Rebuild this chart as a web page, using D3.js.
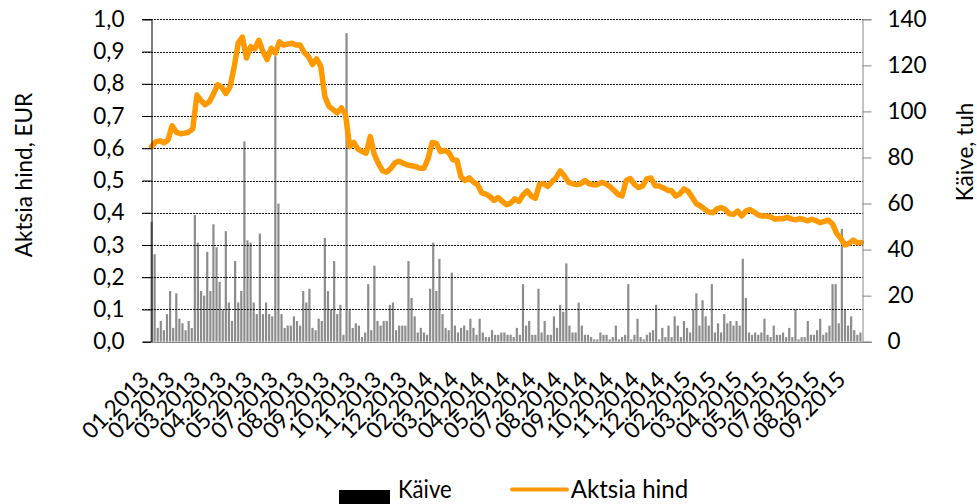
<!DOCTYPE html>
<html>
<head>
<meta charset="utf-8">
<script src="https://cdn.jsdelivr.net/npm/d3@7/dist/d3.min.js"></script>
<style>
  html, body { margin: 0; padding: 0; background: #fff; }
  svg { display: block; }
  text { font-family: Lato, "Open Sans", sans-serif; fill: #000; }
</style>
</head>
<body>
<svg id="chart" width="977" height="504"></svg>
<script>
// x-axis labels (one every 25 trading days)
const tickLabels = [
  '01.2013', '02.2013', '03.2013', '04.2013', '05.2013', '07.2013', '08.2013',
  '09.2013', '10.2013', '11.2013', '12.2013', '02.2014', '03.2014', '04.2014',
  '05.2014', '07.2014', '08.2014', '09.2014', '10.2014', '11.2014', '12.2014',
  '02.2015', '03.2015', '04.2015', '05.2015', '07.2015', '08.2015', '09.2015'
];
const nDays = 690;
const labelStep = 25;

// share price, EUR, read every 4 trading days
const priceStep = 4;
const price = [
  0.605, 0.62, 0.623, 0.617, 0.626, 0.67, 0.65, 0.645, 0.647, 0.65,
  0.66, 0.765, 0.748, 0.735, 0.744, 0.768, 0.797, 0.79, 0.77, 0.79,
  0.85, 0.926, 0.945, 0.88, 0.915, 0.908, 0.935, 0.9, 0.875, 0.91,
  0.895, 0.93, 0.92, 0.923, 0.926, 0.92, 0.92, 0.897, 0.885, 0.86,
  0.877, 0.855, 0.76, 0.73, 0.72, 0.71, 0.725, 0.705, 0.605, 0.618,
  0.598, 0.59, 0.585, 0.636, 0.58, 0.552, 0.53, 0.526, 0.538, 0.555,
  0.56, 0.553, 0.548, 0.546, 0.543, 0.538, 0.538, 0.568, 0.618, 0.615,
  0.59, 0.593, 0.587, 0.565, 0.562, 0.51, 0.5, 0.508, 0.495, 0.487,
  0.462, 0.458, 0.45, 0.438, 0.447, 0.435, 0.425, 0.43, 0.443, 0.435,
  0.455, 0.468, 0.452, 0.445, 0.488, 0.49, 0.482, 0.496, 0.508, 0.53,
  0.515, 0.495, 0.49, 0.487, 0.49, 0.5, 0.49, 0.487, 0.487, 0.494,
  0.49, 0.482, 0.47, 0.457, 0.452, 0.5, 0.506, 0.488, 0.478, 0.483,
  0.505, 0.508, 0.484, 0.483, 0.477, 0.47, 0.468, 0.452, 0.458, 0.474,
  0.467, 0.448, 0.428, 0.421, 0.411, 0.402, 0.4, 0.412, 0.416, 0.41,
  0.397, 0.395, 0.405, 0.39, 0.405, 0.41, 0.402, 0.393, 0.39, 0.39,
  0.387, 0.38, 0.382, 0.381, 0.386, 0.381, 0.378, 0.382, 0.379, 0.375,
  0.38, 0.375, 0.369, 0.373, 0.377, 0.365, 0.336, 0.32, 0.3, 0.305,
  0.315, 0.307, 0.308
];

// turnover, thousand EUR, read every 3 trading days
const volumeStep = 3;
const volume = [
  52, 38, 6, 9, 5, 12, 22, 6, 21, 10,
  8, 5, 9, 6, 55, 43, 22, 20, 39, 22,
  51, 41, 26, 14, 48, 17, 9, 35, 17, 22,
  87, 44, 43, 17, 12, 47, 12, 17, 12, 11,
  124, 60, 12, 6, 7, 7, 11, 9, 7, 22,
  17, 23, 6, 5, 10, 9, 45, 22, 14, 35,
  12, 16, 3, 134, 14, 6, 8, 7, 2, 4,
  25, 5, 33, 9, 7, 9, 9, 16, 17, 5,
  7, 7, 7, 35, 19, 11, 4, 6, 4, 3,
  23, 43, 22, 36, 12, 6, 5, 30, 7, 4,
  6, 7, 5, 10, 6, 3, 10, 4, 2, 2,
  5, 3, 3, 4, 4, 3, 3, 2, 6, 3,
  25, 7, 9, 3, 3, 23, 4, 9, 3, 3,
  11, 6, 16, 13, 34, 7, 4, 4, 17, 7,
  3, 3, 2, 1, 1, 4, 3, 3, 1, 2,
  7, 1, 2, 3, 25, 1, 3, 10, 2, 1,
  3, 4, 5, 16, 1, 6, 2, 7, 2, 11,
  7, 2, 9, 6, 4, 14, 21, 7, 18, 11,
  7, 25, 4, 8, 4, 12, 8, 9, 7, 9,
  7, 36, 19, 4, 3, 4, 3, 4, 10, 3,
  2, 7, 3, 3, 4, 2, 6, 2, 14, 1,
  2, 2, 9, 3, 3, 5, 10, 3, 4, 7,
  25, 25, 8, 49, 14, 7, 11, 5, 3, 4
];

const priceTicks = d3.range(0, 1.0001, 0.1);
const volumeTicks = [0, 20, 40, 60, 80, 100, 120, 140];

const svg = d3.select('#chart');
const plot = { left: 151, right: 863, top: 19.3, bottom: 341.7 };

const x = d3.scaleLinear().domain([-0.5, nDays - 0.5]).range([plot.left, plot.right]);
const yL = d3.scaleLinear().domain([0, 1]).range([plot.bottom, plot.top]);
const yR = d3.scaleLinear().domain([0, 140]).range([plot.bottom, plot.top]);

const fmt = d3.formatLocale({ decimal: ',', thousands: ' ', grouping: [3], currency: ['', ' €'] }).format('.1f');

// gridlines (dotted)
svg.append('g')
  .selectAll('line')
  .data(priceTicks.filter(t => t > 0.05))
  .join('line')
  .attr('x1', plot.left - 9)
  .attr('x2', plot.right)
  .attr('y1', d => Math.round(yL(d)) + 0.5)
  .attr('y2', d => Math.round(yL(d)) + 0.5)
  .attr('stroke', '#111')
  .attr('stroke-width', 1)
  .attr('stroke-dasharray', '2 1');

// volume bars
const barW = 2.2;
svg.append('g')
  .selectAll('rect')
  .data(volume)
  .join('rect')
  .attr('x', (d, i) => x(i * volumeStep) - barW / 2)
  .attr('width', barW)
  .attr('y', d => yR(d))
  .attr('height', d => yR(0) - yR(d))
  .attr('fill', '#000')
  .attr('fill-opacity', 0.45);

// price line
const line = d3.line()
  .x((d, i) => x(i * priceStep))
  .y(d => yL(d));

svg.append('path')
  .datum(price)
  .attr('d', line)
  .attr('fill', 'none')
  .attr('stroke', '#ff9900')
  .attr('stroke-width', 5.5)
  .attr('stroke-linejoin', 'round')
  .attr('stroke-linecap', 'round');

// left axis
const axL = svg.append('g')
  .attr('transform', `translate(${plot.left + 0.5},0)`)
  .call(d3.axisLeft(yL).tickValues(priceTicks).tickFormat(fmt).tickSize(9).tickPadding(18));
axL.select('.domain').attr('stroke', '#000');
axL.selectAll('.tick line').attr('stroke', '#000');
axL.selectAll('text').style('font-size', '22.5px').attr('fill', '#000');

// right axis
const axR = svg.append('g')
  .attr('transform', `translate(${plot.right - 0.5},0)`)
  .call(d3.axisRight(yR).tickValues(volumeTicks).tickSize(9).tickPadding(16));
axR.select('.domain').attr('stroke', '#868686');
axR.selectAll('.tick line').attr('stroke', '#868686');
axR.selectAll('text').style('font-size', '22.5px').attr('fill', '#000');

// bottom axis line
svg.append('line')
  .attr('x1', plot.left)
  .attr('x2', plot.right + 9)
  .attr('y1', Math.round(plot.bottom) + 0.5)
  .attr('y2', Math.round(plot.bottom) + 0.5)
  .attr('stroke', '#868686');

// category labels, rotated
svg.append('g')
  .selectAll('text')
  .data(tickLabels)
  .join('text')
  .attr('transform', (d, i) => `translate(${x(i * labelStep) - 1},381) rotate(-45)`)
  .attr('text-anchor', 'end')
  .style('font-size', '22.5px')
  .text(d => d);

// axis titles
svg.append('text')
  .attr('transform', 'translate(32,175) rotate(-90)')
  .attr('text-anchor', 'middle')
  .style('font-size', '22.5px')
  .text('Aktsia hind, EUR');

svg.append('text')
  .attr('transform', 'translate(973,152) rotate(-90)')
  .attr('text-anchor', 'middle')
  .style('font-size', '22.5px')
  .text('Käive, tuh');

// legend
const legend = svg.append('g');
legend.append('rect')
  .attr('x', 339).attr('y', 490)
  .attr('width', 51).attr('height', 14)
  .attr('fill', '#000');
legend.append('text')
  .attr('x', 398).attr('y', 498)
  .attr('textLength', 53.7)
  .attr('lengthAdjust', 'spacingAndGlyphs')
  .style('font-size', '25px')
  .text('Käive');
legend.append('line')
  .attr('x1', 512).attr('x2', 567)
  .attr('y1', 489.5).attr('y2', 489.5)
  .attr('stroke', '#ff9900')
  .attr('stroke-width', 4)
  .attr('stroke-linecap', 'round');
legend.append('text')
  .attr('x', 570.7).attr('y', 498)
  .attr('textLength', 117.6)
  .attr('lengthAdjust', 'spacingAndGlyphs')
  .style('font-size', '25px')
  .text('Aktsia hind');
</script>
</body>
</html>
